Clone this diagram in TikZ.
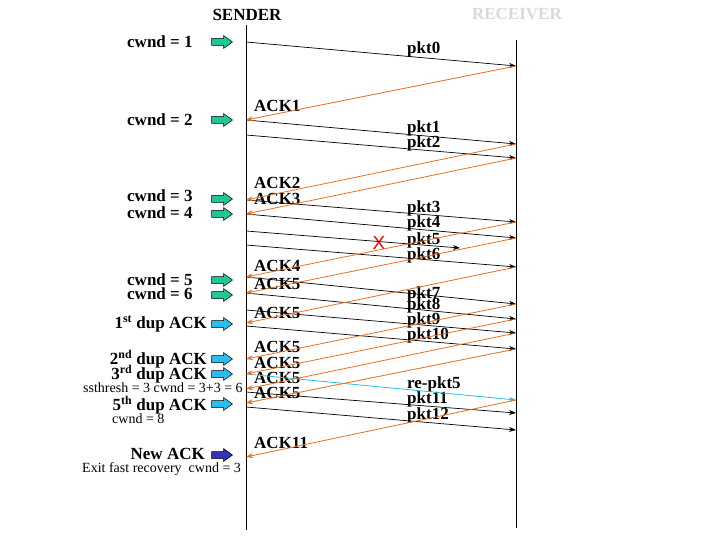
\documentclass[tikz,border=0pt]{standalone}
\usepackage{fontspec}
\setmainfont{Liberation Serif}
\newfontfamily\sansX{Liberation Sans}
\usetikzlibrary{arrows.meta}
\definecolor{ackorange}{RGB}{235,110,30}
\definecolor{rexcyan}{RGB}{40,190,230}
\definecolor{arrgreen}{RGB}{30,200,150}
\definecolor{arrcyan}{RGB}{40,190,240}
\definecolor{arrblue}{RGB}{50,50,190}
\begin{document}
\begin{tikzpicture}[x=1pt,y=-1pt,
  lbl/.style={font=\fontsize{17}{17}\selectfont\bfseries, inner sep=0pt},
  small/.style={font=\fontsize{14}{14}\selectfont, inner sep=0pt},
  tip/.style={-{Stealth[length=7pt,width=5pt]}},
  pkt/.style={draw=black, line width=0.7pt, tip},
  ack/.style={draw=ackorange, line width=0.8pt, tip},
  rex/.style={draw=rexcyan, line width=0.8pt, tip},
  life/.style={line width=0.8pt},
  pics/blockarr/.style={code={\draw[line width=0.5pt, fill=#1]
     (-10.5,-3.5) -- (1.5,-3.5) -- (1.5,-6.5) -- (10.5,0) -- (1.5,6.5) -- (1.5,3.5) -- (-10.5,3.5) -- cycle;}}
]
\useasboundingbox (0,0) rectangle (720,540);
% lifelines
\coordinate (sTop) at (246,25);
\coordinate (sBot) at (246,530);
\coordinate (rTop) at (516,40);
\coordinate (rBot) at (516,528);
\draw[life] (sTop) -- (sBot);
\draw[life] (rTop) -- (rBot);
% headings
\node[lbl, anchor=base] (sender) at (247,20.5) {SENDER};
\node[lbl, anchor=base, text=black!15] (receiver) at (517,20) {RECEIVER};
% left labels
\node[lbl, anchor=base west] (c1) at (127,47.5) {cwnd = 1};
\node[lbl, anchor=base west] (c2) at (127,125.5) {cwnd = 2};
\node[lbl, anchor=base west] (c3) at (127,201.5) {cwnd = 3};
\node[lbl, anchor=base west] (c4) at (127,218.5) {cwnd = 4};
\node[lbl, anchor=base west] (c5) at (127,285.5) {cwnd = 5};
\node[lbl, anchor=base west] (c6) at (127,299.5) {cwnd = 6};
\node[lbl, anchor=base east] (d1) at (207,328.5) {1\textsuperscript{st} dup ACK};
\node[lbl, anchor=base east] (d2) at (207,364.5) {2\textsuperscript{nd} dup ACK};
\node[lbl, anchor=base east] (d3) at (207,379.5) {3\textsuperscript{rd} dup ACK};
\node[small, anchor=base west] (ss) at (83,392) {ssthresh = 3 cwnd = 3+3 = 6};
\node[lbl, anchor=base east] (d5) at (207,410.5) {5\textsuperscript{th} dup ACK};
\node[small, anchor=base west] (c8) at (112,423) {cwnd = 8};
\node[lbl, anchor=base east] (na) at (205,459.5) {New ACK};
\node[small, anchor=base west] (ex) at (82,472) {Exit fast recovery\ \ cwnd = 3};
% block arrows
\foreach \yy in {42,120,199,214,280,295} \pic at (222,\yy) {blockarr=arrgreen};
\foreach \yy in {324,359,374,404} \pic at (222,\yy) {blockarr=arrcyan};
\pic at (222,455) {blockarr=arrblue};
% packet labels
\node[lbl, anchor=base west] (p0) at (407,54) {pkt0};
\node[lbl, anchor=base west] (p1) at (407,133) {pkt1};
\node[lbl, anchor=base west] (p2) at (407,148) {pkt2};
\node[lbl, anchor=base west] (p3) at (407,213) {pkt3};
\node[lbl, anchor=base west] (p4) at (407,228) {pkt4};
\node[lbl, anchor=base west] (p5) at (407,244) {pkt5};
\node[lbl, anchor=base west] (p6) at (407,259) {pkt6};
\node[lbl, anchor=base west] (p7) at (407,298) {pkt7};
\node[lbl, anchor=base west] (p8) at (407,309) {pkt8};
\node[lbl, anchor=base west] (p9) at (407,324) {pkt9};
\node[lbl, anchor=base west] (p10) at (407,339) {pkt10};
\node[lbl, anchor=base west] (rp5) at (407,388) {re-pkt5};
\node[lbl, anchor=base west] (p11) at (407,403) {pkt11};
\node[lbl, anchor=base west] (p12) at (407,419) {pkt12};
% ack labels
\node[lbl, anchor=base west] (a1) at (254,112) {ACK1};
\node[lbl, anchor=base west] (a2) at (254,189) {ACK2};
\node[lbl, anchor=base west] (a3) at (254,205) {ACK3};
\node[lbl, anchor=base west] (a4) at (254,271) {ACK4};
\node[lbl, anchor=base west] (a5a) at (254,289) {ACK5};
\node[lbl, anchor=base west] (a5b) at (254,318) {ACK5};
\node[lbl, anchor=base west] (a5c) at (254,352) {ACK5};
\node[lbl, anchor=base west] (a5d) at (254,368) {ACK5};
\node[lbl, anchor=base west] (a5e) at (254,383) {ACK5};
\node[lbl, anchor=base west] (a5f) at (254,398) {ACK5};
\node[lbl, anchor=base west] (a11) at (254,448) {ACK11};
% loss mark
\node[font=\sansX\fontsize{19}{19}\selectfont, text=red, inner sep=0pt] (loss) at (379,243) {X};
% event points on sender
\foreach \yy in {42,120,135,200,214,231,245,277,293,310,323,326,359,374,389,392,403,407,457}
  \coordinate (s\yy) at (246,\yy);
% event points on receiver
\foreach \yy in {66,144,158,222,238,267,304,319,333,349,400,413,430}
  \coordinate (r\yy) at (516,\yy);
\coordinate (lost) at (460,248);
% packets
\draw[pkt] (s42) -- (r66);
\draw[pkt] (s120) -- (r144);
\draw[pkt] (s135) -- (r158);
\draw[pkt] (s200) -- (r222);
\draw[pkt] (s214) -- (r238);
\draw[pkt] (s231) -- (lost);
\draw[pkt] (s245) -- (r267);
\draw[pkt] (s277) -- (r304);
\draw[pkt] (s293) -- (r319);
\draw[pkt] (s310) -- (r333);
\draw[pkt] (s326) -- (r349);
\draw[pkt] (s392) -- (r413);
\draw[pkt] (s407) -- (r430);
\draw[rex] (s374) -- (r400);
% acks
\draw[ack] (r66) -- (s120);
\draw[ack] (r144) -- (s200);
\draw[ack] (r158) -- (s214);
\draw[ack] (r222) -- (s277);
\draw[ack] (r238) -- (s293);
\draw[ack] (r267) -- (s323);
\draw[ack] (r304) -- (s359);
\draw[ack] (r319) -- (s374);
\draw[ack] (r333) -- (s389);
\draw[ack] (r349) -- (s403);
\draw[ack] (r400) -- (s457);
\end{tikzpicture}
\end{document}
